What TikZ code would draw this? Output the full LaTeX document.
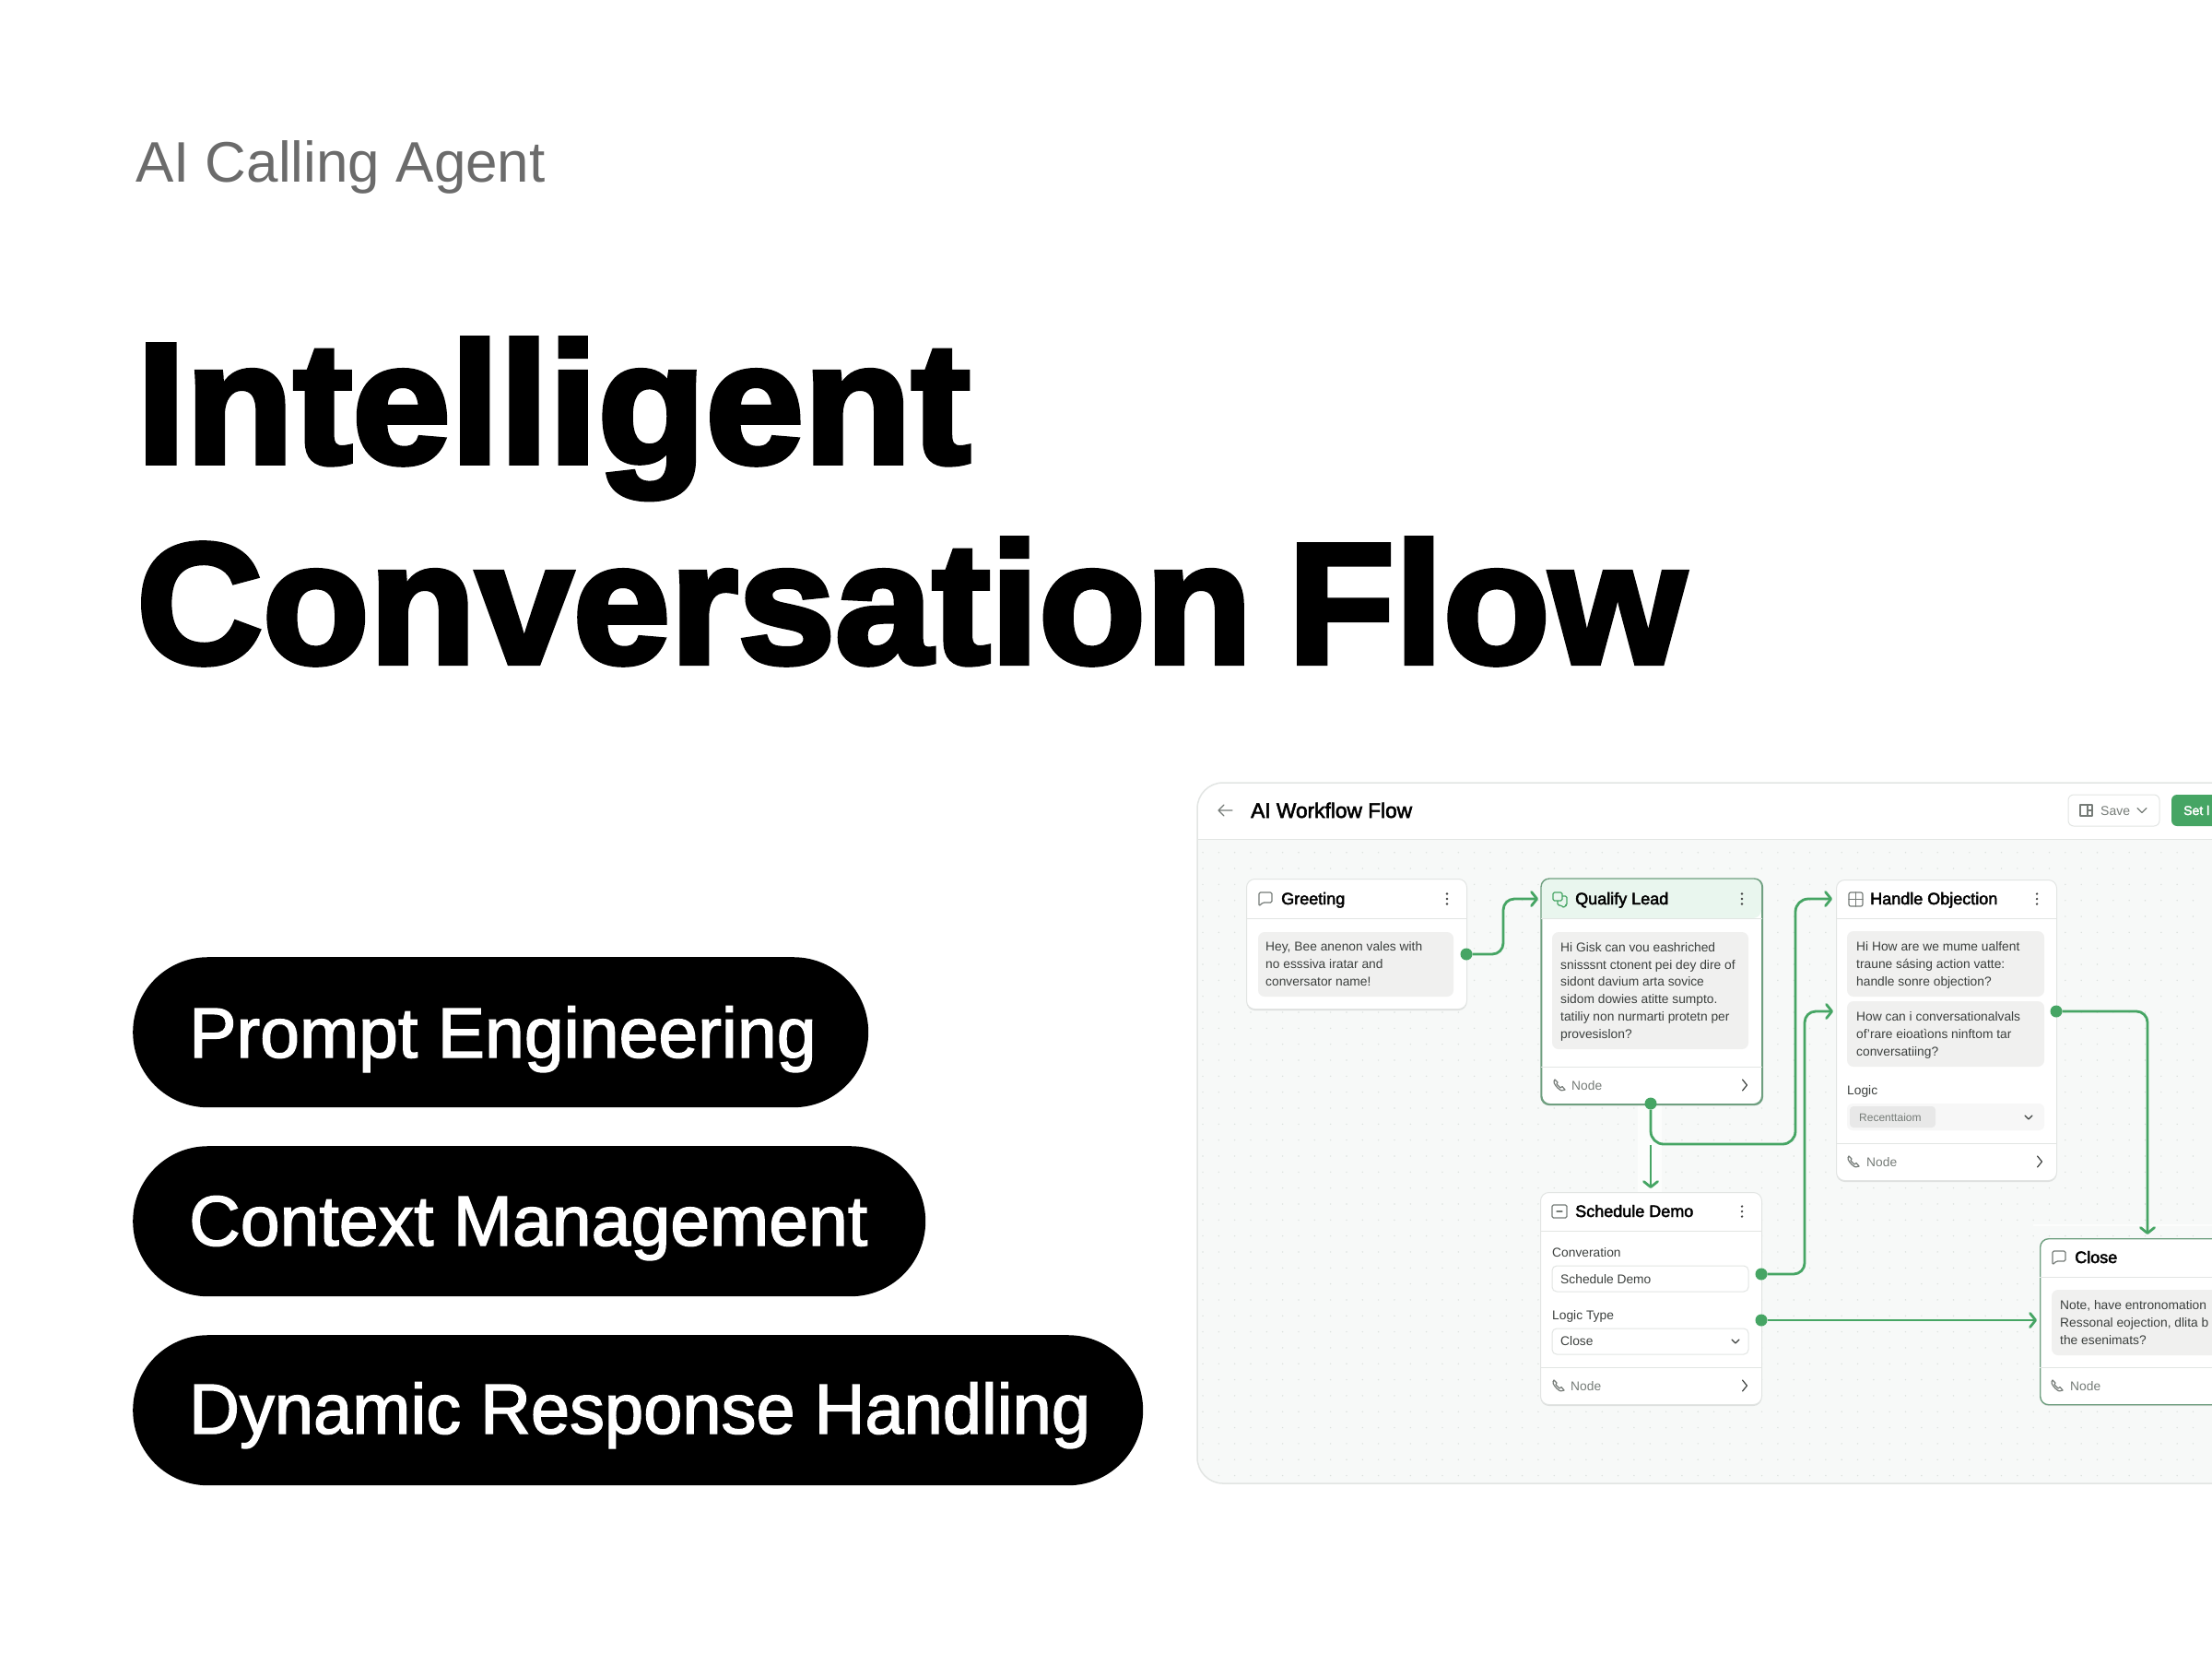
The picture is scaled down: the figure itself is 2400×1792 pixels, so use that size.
\documentclass[tikz,border=0pt]{standalone}
\usepackage{fontspec}
\setmainfont{Liberation Sans}
\newfontfamily\heavyfont[FakeStretch=1.035,BoldFeatures={FakeBold=3.2}]{Liberation Sans}
\newfontfamily\semifont[FakeBold=2.5]{Liberation Sans}
\newfontfamily\medfont[FakeBold=1.8]{Liberation Sans}
\usetikzlibrary{arrows.meta,shadows}
\definecolor{flowgreen}{HTML}{46A564}
\definecolor{cardline}{HTML}{E2E5E3}
\definecolor{activeline}{HTML}{6F9F80}
\definecolor{headtint}{HTML}{E9F6EE}
\definecolor{panelbg}{HTML}{F7F9F8}
\definecolor{griddot}{HTML}{DCE1DE}
\definecolor{bubblebg}{HTML}{F0F0EF}
\definecolor{bodytext}{HTML}{3C403E}
\definecolor{softtext}{HTML}{767C78}
\tikzset{
	txt/.style={anchor=base west,inner sep=0pt,text=bodytext,font=\fontsize{13.8}{18.7}\selectfont,align=left},
	soft/.style={txt,text=softtext},
	cardtitle/.style={anchor=base west,inner sep=0pt,text=black,font=\semifont\fontsize{18}{20}\selectfont},
	card/.style={draw=cardline,line width=1pt,fill=white,rounded corners=9pt,anchor=north west,inner sep=0pt,
		general shadow={fill=black,opacity=.10,shadow yshift=-1.5pt}},
	activecard/.style={card,draw=activeline,line width=1.4pt},
	bubble/.style={fill=bubblebg,rounded corners=7pt},
	field/.style={draw=cardline,line width=1pt,fill=white,rounded corners=5pt},
	divider/.style={draw=cardline,line width=1pt},
	pill/.style={fill=black,rounded corners=81.5pt,anchor=north west,minimum height=163,inner sep=0pt},
	pilltext/.style={anchor=base west,inner sep=0pt,text=white,font=\medfont\fontsize{77}{80}\selectfont},
	port/.style={circle,fill=flowgreen,inner sep=0pt,minimum size=13},
	wire/.style={draw=flowgreen,line width=2.8pt,rounded corners=12pt},
	arrowwire/.style={wire,-{Straight Barb[length=6pt,width=15pt,line width=2.8pt,round]}},
	icon/.style={draw=#1,line width=1.2pt,line cap=round,line join=round},
	icon/.default=softtext
}
\newcommand{\kebab}[2]{\fill[black!75,shift={(#1,#2)}] (0,-5.5) circle (1.3) (0,0) circle (1.3) (0,5.5) circle (1.3);}
\newcommand{\chevright}[2]{\draw[icon=bodytext,shift={(#1,#2)}] (-2.5,-6) -- (2.5,0) -- (-2.5,6);}
\newcommand{\chevdown}[2]{\draw[icon=bodytext,shift={(#1,#2)}] (-4,-2) -- (0,2) -- (4,-2);}
\newcommand{\phoneicon}[2]{\draw[icon,shift={(#1,#2)}] (-5,-6) .. controls (-7,-4) and (-6,-1) .. (-2,3) .. controls (1,6) and (4,7) .. (6,5) -- (3,1.5) -- (1,3) -- (-3,-1) -- (-2,-3) -- cycle;}
\newcommand{\chaticon}[3]{\draw[icon=#3,rounded corners=1.5pt,shift={(#1,#2)}] (-7,-7) -- (7,-7) -- (7,4) -- (-3,4) -- (-7,8) -- cycle;}

\begin{document}
\begin{tikzpicture}[x=1pt,y=-1pt]
	\useasboundingbox (0,0) rectangle (2400,1792);
	\clip (0,0) rectangle (2400,1792);
	\fill[white] (0,0) rectangle (2400,1792);
	% left column
	\node[anchor=base west,inner sep=0pt,text=black!58,font=\fontsize{62}{70}\selectfont] (kicker) at (147,197) {AI Calling Agent};
	\node[anchor=base west,inner sep=0pt,font=\heavyfont\bfseries\fontsize{186}{190}\selectfont] (titleA) at (148,502) {\scalebox{.995}[1]{Intelligent}};
	\node[anchor=base west,inner sep=0pt,font=\heavyfont\bfseries\fontsize{186}{190}\selectfont] (titleB) at (148,719) {\scalebox{.984}[1]{Conversation\hspace{-14pt} Flow}};
	\node[pill,minimum width=798] (pillA) at (144,1038) {};
	\node[pill,minimum width=860] (pillB) at (144,1243) {};
	\node[pill,minimum width=1096] (pillC) at (144,1448) {};
	\node[pilltext] (pillAtext) at (205,1147) {Prompt Engineering};
	\node[pilltext] (pillBtext) at (205,1351) {Context Management};
	\node[pilltext] (pillCtext) at (205,1555) {\scalebox{.985}[1]{Dynamic Response Handling}};
	% window
	\fill[white,rounded corners=28pt] (1299,849) rectangle (2460,1609);
	\begin{scope}
		\clip[rounded corners=28pt] (1299,849) rectangle (2460,1609);
		\fill[panelbg] (1299,910) rectangle (2460,1609);
		\foreach \i in {0,...,62}
		\foreach \j in {0,...,39}
		\fill[griddot] (1305+17.33*\i,924.7+17.33*\j) circle (0.8);
	\end{scope}
	\draw[cardline,line width=1.5pt,rounded corners=28pt] (1299,849) rectangle (2460,1609);
	\draw[divider] (1299,910) -- (2400,910);
	\draw[icon,line width=1.2pt] (1337,879) -- (1322,879) (1328,873) -- (1322,879) -- (1328,885);
	\node[anchor=base west,inner sep=0pt,font=\semifont\fontsize{22.7}{24}\selectfont] (wintitle) at (1357,887) {AI Workflow Flow};
	\draw[field,rounded corners=6pt] (2244,862) rectangle (2343,896);
	\draw[icon] (2257,873) rectangle (2270,885) (2265,873) -- (2265,885) (2265,879) -- (2270,879);
	\node[soft,font=\fontsize{14}{16}\selectfont] (savetxt) at (2279,884) {Save};
	\draw[icon,shift={(2324,879)}] (-5,-2.5) -- (0,2.5) -- (5,-2.5);
	\fill[flowgreen,rounded corners=6pt] (2356,862) rectangle (2460,896);
	\node[anchor=base west,inner sep=0pt,text=white,font=\semifont\fontsize{14}{16}\selectfont] (settxt) at (2369,884) {Set l};
	% pale strips behind the arrows
	\fill[white,opacity=.7] (1777,1198) rectangle (1803,1293);
	\fill[white,opacity=.7] (2206,1328) rectangle (2400,1330);
	% greeting card
	\node[card,minimum width=239,minimum height=141] (greeting) at (1352,953) {};
	\draw[divider] (greeting.west |- 0,996) -- (greeting.east |- 0,996);
	\chaticon{1373}{975}{softtext}
	\node[cardtitle] (greetingtitle) at (1390,981) {Greeting};
	\kebab{1570}{975}
	\fill[bubble] (1365,1011) rectangle (1577,1081);
	\node[txt] (greetingtext) at (1373,1069) {Hey, Bee anenon vales with\\no esssiva iratar and\\conversator name!};
	% qualify card
	\node[activecard,minimum width=239,minimum height=244] (qualify) at (1672,953) {};
	\fill[headtint,rounded corners=9pt] (1672,996) |- (1911,953) -- (1911,996) [sharp corners] -- cycle;
	\draw[activeline,line width=1.4pt,rounded corners=9pt] (qualify.north west) rectangle (qualify.south east);
	\draw[divider] (qualify.west |- 0,996) -- (qualify.east |- 0,996);
	\draw[divider] (qualify.west |- 0,1157) -- (qualify.east |- 0,1157);
	\draw[icon=flowgreen,rounded corners=1.5pt] (1685,968) rectangle (1695,977) (1696,972) -- (1700,972) -- (1700,982) -- (1698,982) -- (1697,985) -- (1694,982) -- (1690,982) -- (1690,978);
	\node[cardtitle] (qualifytitle) at (1709,981) {Qualify Lead};
	\kebab{1890}{975}
	\fill[bubble] (1684,1011) rectangle (1897,1138);
	\node[txt] (qualifytext) at (1693,1126) {Hi Gisk can vou eashriched\\snisssnt ctonent pei dey dire of\\sidont davium arta sovice\\sidom dowies atitte sumpto.\\tatiliy non nurmarti protetn per\\provesislon?};
	\phoneicon{1692}{1177}
	\node[soft] (qualifynode) at (1705,1182) {Node};
	\chevright{1893}{1177}
	% handle objection card
	\node[card,minimum width=239,minimum height=326] (objection) at (1992,954) {};
	\draw[divider] (objection.west |- 0,996) -- (objection.east |- 0,996);
	\draw[divider] (objection.west |- 0,1240) -- (objection.east |- 0,1240);
	\draw[icon,rounded corners=2pt] (2006,968) rectangle (2021,983);
	\draw[icon] (2006,975.5) -- (2021,975.5) (2013.5,968) -- (2013.5,983);
	\node[cardtitle] (objectiontitle) at (2029,981) {Handle Objection};
	\kebab{2210}{975}
	\fill[bubble] (2004,1010) rectangle (2218,1081);
	\fill[bubble] (2004,1086) rectangle (2218,1157);
	\node[txt] (objectiontextA) at (2014,1069) {Hi How are we mume ualfent\\traune sásing action vatte:\\handle sonre objection?};
	\node[txt] (objectiontextB) at (2014,1145) {How can i conversationalvals\\of'rare eioatìons ninftom tar\\conversatiing?};
	\node[txt] (logiclabel) at (2004,1187) {Logic};
	\fill[black!3,rounded corners=6pt] (2004,1197) rectangle (2218,1226);
	\fill[black!9,rounded corners=4pt] (2007,1200) rectangle (2100,1223);
	\node[soft,font=\fontsize{12}{14}\selectfont] (logicchip) at (2017,1216) {Recenttaiom};
	\chevdown{2201}{1212}
	\phoneicon{2011}{1260}
	\node[soft] (objectionnode) at (2025,1265) {Node};
	\chevright{2213}{1260}
	% schedule card
	\node[card,minimum width=240,minimum height=230] (schedule) at (1671,1293) {};
	\draw[divider] (schedule.west |- 0,1335) -- (schedule.east |- 0,1335);
	\draw[divider] (schedule.west |- 0,1483) -- (schedule.east |- 0,1483);
	\draw[icon,rounded corners=1.5pt] (1684,1307) rectangle (1700,1321);
	\draw[icon] (1689,1314) -- (1695,1314);
	\node[cardtitle] (scheduletitle) at (1709,1320) {Schedule Demo};
	\kebab{1890}{1314}
	\node[txt] (convlabel) at (1684,1363) {Converation};
	\draw[field] (1684,1373) rectangle (1897,1401);
	\node[txt] (convfield) at (1693,1392) {Schedule Demo};
	\node[txt] (typelabel) at (1684,1431) {Logic Type};
	\draw[field] (1684,1441) rectangle (1897,1469);
	\node[txt] (typefield) at (1693,1459) {Close};
	\chevdown{1883}{1455}
	\phoneicon{1691}{1503}
	\node[soft] (schedulenode) at (1704,1508) {Node};
	\chevright{1893}{1503}
	% close card
	\node[activecard,minimum width=260,minimum height=180] (closing) at (2213,1343) {};
	\draw[divider] (closing.west |- 0,1385) -- (2400,1385);
	\draw[divider] (closing.west |- 0,1483) -- (2400,1483);
	\chaticon{2234}{1364}{softtext}
	\node[cardtitle] (closingtitle) at (2251,1370) {Close};
	\fill[bubble] (2226,1399) rectangle (2460,1470);
	\node[txt] (closingtext) at (2235,1458) {Note, have entronomation\\Ressonal eojection, dlita b\\the esenimats?};
	\phoneicon{2232}{1503}
	\node[soft] (closingnode) at (2246,1508) {Node};
	% connectors
	\node[port] (greetingout) at (1591,1035) {};
	\node[port] (qualifyout) at (1791,1197) {};
	\node[port] (objectionout) at (2231,1097) {};
	\node[port] (scheduleoutA) at (1911,1382) {};
	\node[port] (scheduleoutB) at (1911,1432) {};
	\coordinate (qualifyin) at (1669,975);
	\coordinate (objectioninA) at (1988,975);
	\coordinate (objectioninB) at (1989,1097);
	\coordinate (schedulestub) at (1791,1242);
	\coordinate (schedulein) at (1791,1289);
	\coordinate (closingtop) at (2330,1339);
	\coordinate (closingleft) at (2210,1432);
	\draw[arrowwire] (greetingout) -| (1631,975) -- (qualifyin);
	\draw[arrowwire,rounded corners=14pt] (qualifyout) |- (1948,1241) -- (1948,975) -- (objectioninA);
	\draw[arrowwire] (schedulestub) -- (schedulein);
	\draw[arrowwire] (scheduleoutA) -| (1958,1097) -- (objectioninB);
	\draw[arrowwire] (objectionout) -| (closingtop);
	\draw[arrowwire] (scheduleoutB) -- (closingleft);
\end{tikzpicture}
\end{document}
